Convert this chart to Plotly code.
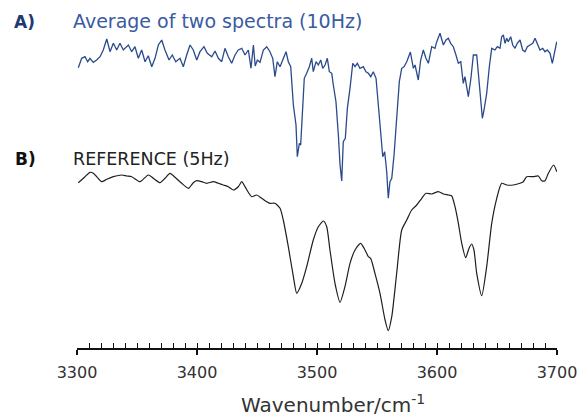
import plotly.graph_objects as go

# ---------------- data ----------------
# A) average of two spectra (10 Hz): wavenumber (cm-1) and relative signal (a.u.)
avg_wn = [3301.1, 3303.9, 3306.7, 3308.9, 3310.8, 3313.6, 3316.4, 3319.2, 3321.9, 3324.8,
          3327.5, 3330.3, 3333.1, 3335.8, 3338.6, 3342.8, 3345.6, 3348.3, 3351.1, 3353.9,
          3356.7, 3359.4, 3362.3, 3365.0, 3367.8, 3370.6, 3373.3, 3376.7, 3379.4, 3382.3,
          3385.8, 3388.6, 3391.4, 3394.2, 3396.9, 3399.8, 3402.5, 3405.8, 3408.6, 3412.3,
          3415.0, 3417.8, 3420.6, 3423.3, 3426.1, 3428.9, 3431.7, 3434.4, 3437.3, 3440.0,
          3442.8, 3445.0, 3447.0, 3448.5, 3450.3, 3452.5, 3455.3, 3458.1, 3460.8, 3463.1,
          3465.0, 3466.9, 3469.2, 3471.9, 3474.2, 3476.1, 3478.1, 3480.3, 3482.5, 3483.6,
          3485.3, 3486.4, 3487.8, 3489.4, 3491.4, 3493.6, 3495.6, 3496.9, 3499.2, 3501.1,
          3503.1, 3504.8, 3506.7, 3508.6, 3510.3, 3512.3, 3513.6, 3515.8, 3517.8, 3519.2,
          3520.6, 3521.9, 3523.6, 3525.3, 3527.5, 3529.8, 3531.7, 3533.6, 3535.8, 3538.6,
          3540.8, 3542.8, 3544.8, 3546.9, 3549.2, 3551.1, 3553.1, 3554.8, 3556.4, 3558.1,
          3559.4, 3560.8, 3562.3, 3564.2, 3566.4, 3568.6, 3570.6, 3572.5, 3574.8, 3577.8,
          3580.3, 3581.7, 3584.4, 3586.4, 3588.6, 3590.8, 3592.8, 3595.6, 3598.3, 3599.8,
          3602.5, 3603.9, 3605.3, 3607.5, 3609.4, 3611.4, 3613.6, 3615.8, 3617.8, 3619.8,
          3621.9, 3623.3, 3626.1, 3628.1, 3630.3, 3633.1, 3635.3, 3637.8, 3639.2, 3641.4,
          3643.6, 3645.6, 3648.3, 3650.3, 3652.5, 3653.9, 3655.3, 3656.7, 3658.1, 3659.4,
          3661.4, 3663.1, 3665.0, 3666.9, 3669.2, 3671.4, 3673.3, 3675.3, 3677.5, 3679.8,
          3681.7, 3683.6, 3685.8, 3688.1, 3690.0, 3691.9, 3694.2, 3696.1, 3697.5, 3699.8]
avg_signal = [-17.7, -8.3, -6.7, -11.7, -8.3, -12.3, -10, -6.7, 0, 11,
              -1.7, 6.7, 0, 6.7, 0, 5, -1.7, 3.3, -8.3, 0,
              -11.7, -5.7, -16.7, -8.3, 5, 10, 0, -10, -5, -11.7,
              -8.3, -16.7, -5, 5, 0, -10, -1.7, 3.3, -3.3, -6.7,
              -1, -8.3, -11.7, 1.7, -6.7, -13.3, -5, 0, 1.7, -5,
              0, -18.3, 5, -16, -10, -12.3, 0, 3.3, -1.7, -8.3,
              -26.7, -11.7, -16.7, -8.3, -1.7, -11.7, -16.7, -55, -75, -106.7,
              -93.3, -95, -58.3, -28.3, -23.3, -16.7, -8.3, -21.7, -11.7, -15,
              -10, -18.3, -15, -8.3, -21.7, -23.3, -35, -51.7, -85, -115,
              -131, -91.7, -88.3, -58.3, -38.3, -13.3, -16.7, -13.3, -18.3, -16.7,
              -21.7, -23.3, -26.7, -21.7, -28.3, -55, -75, -106.7, -101.7, -121.7,
              -148.3, -131.7, -128.3, -105, -68.3, -31.7, -18.3, -16.7, -11.7, -2,
              -18.3, -15, -30, -10, 0, -8.3, -13.3, 3.3, 1.7, 8.3,
              16.7, 11.7, 5, 10, 11.7, 6.7, 3.3, -5, -13.3, -11.7,
              -33.3, -26.7, -46.7, -30, -5, -5, -36.7, -68.3, -60, -43.3,
              -16.7, 1.7, 0, 3.3, 1.7, 13.3, 15, 6.7, 11.7, 8.3,
              13.3, 5, 1.7, 6.7, 10, 0, -1.7, 3.3, 5, 6.7,
              11.7, 6.7, 0, 1.7, -1.7, 0, -3.3, -13.3, -5, 8.3]

# B) reference spectrum (5 Hz)
ref_wn = [3301.1, 3306.7, 3310.8, 3313.6, 3316.4, 3320.6, 3324.8, 3330.3, 3337.3, 3341.4,
          3345.6, 3352.5, 3359.4, 3363.6, 3369.2, 3373.3, 3377.5, 3381.7, 3387.3, 3392.8,
          3396.9, 3399.8, 3403.9, 3408.1, 3413.6, 3417.8, 3421.9, 3426.1, 3430.3, 3434.4,
          3437.3, 3440.0, 3445.6, 3449.8, 3453.9, 3458.1, 3460.8, 3465.0, 3469.2, 3471.9,
          3476.1, 3480.3, 3483.1, 3487.3, 3491.4, 3496.9, 3501.1, 3505.3, 3508.1, 3510.8,
          3515.0, 3519.2, 3523.3, 3527.5, 3531.7, 3536.4, 3540.0, 3542.8, 3544.7, 3548.3,
          3552.5, 3556.7, 3559.4, 3562.3, 3566.4, 3570.6, 3574.8, 3578.9, 3583.1, 3587.3,
          3590.8, 3595.6, 3601.1, 3605.3, 3609.4, 3612.3, 3615.0, 3617.8, 3620.6, 3623.9,
          3626.7, 3628.9, 3630.8, 3633.1, 3637.3, 3641.4, 3645.6, 3649.8, 3653.9, 3658.1,
          3663.6, 3669.2, 3671.9, 3674.7, 3680.3, 3684.4, 3687.3, 3690.0, 3692.8, 3697.2,
          3699.8]
ref_signal = [-2.7, 3.3, 7.7, 6.7, 3.3, -1.7, 0.7, 3.3, 5, 4,
              3.3, -1.7, 5, 1.7, -2.7, 1.7, 6.7, 2.7, -3.3, -8.3,
              -2.7, -0.7, -1.7, -3.3, -1.7, -3.3, -5, -6.7, -10, -6.7,
              -1.7, -6.7, -16.7, -15, -18.3, -21.7, -23.3, -23.3, -28.3, -40,
              -66.7, -96.7, -113.3, -103.3, -86.7, -60, -46.7, -41, -46.7, -70,
              -103.3, -122.3, -106.7, -83.3, -70, -63.3, -70, -76.7, -78.3, -93.3,
              -113.3, -140, -150.7, -136.7, -93.3, -50, -40, -30, -25, -18.3,
              -13.3, -14, -11.7, -14, -15, -16, -26.7, -43.3, -63.3, -77.7,
              -68.3, -64, -70, -93.3, -115.7, -86.7, -43.3, -18.3, -3.3, -5,
              -5, -3.3, -1.7, 3.3, 3.3, 4, -0.7, -0.7, 6.7, 15,
              8.3]

x_ticks = [3300, 3400, 3500, 3600, 3700]
x_tick_labels = ["3300", "3400", "3500", "3600", "3700"]
x_title = "Wavenumber/cm<sup>-1</sup>"
label_a = "A)"
title_a = "Average of two spectra (10Hz)"
label_b = "B)"
title_b = "REFERENCE (5Hz)"

# ---------------- layout constants ----------------
W, H = 581, 419
ML, MR, MT, MB = 77, 24, 0, 71
PW, PH = W - ML - MR, H - MT - MB
OFFSET_A = 298   # vertical offset of trace A (stacked display)
OFFSET_B = 168   # vertical offset of trace B
FONT = "'DejaVu Sans', sans-serif"
BLUE = "#2a4a8c"
BLUE_TXT = "#3a5ba2"


def px(x):
    return (x - ML) / PW


def py(y):
    return (MT + PH - y) / PH


fig = go.Figure()
fig.add_trace(go.Scatter(
    x=ref_wn, y=[OFFSET_B + v for v in ref_signal], mode="lines",
    line=dict(color="#1e1e1e", width=1.2, shape="spline", smoothing=0.6),
    hoverinfo="skip", showlegend=False))
fig.add_trace(go.Scatter(
    x=avg_wn, y=[OFFSET_A + v for v in avg_signal], mode="lines",
    line=dict(color=BLUE, width=1.3),
    hoverinfo="skip", showlegend=False))
# invisible trace on overlay axis to carry the minor ticks
fig.add_trace(go.Scatter(x=[3300, 3700], y=[0, 0], xaxis="x2", mode="lines",
                         line=dict(width=0), hoverinfo="skip", showlegend=False))

fig.update_layout(
    width=W, height=H,
    margin=dict(l=ML, r=MR, t=MT, b=MB),
    paper_bgcolor="white", plot_bgcolor="white",
    xaxis=dict(range=[3300, 3700], tickmode="array", tickvals=x_ticks,
               ticktext=x_tick_labels, ticks="outside", ticklen=5, tickwidth=1.5,
               tickcolor="#111", showline=True, linecolor="#111", linewidth=1.6,
               showgrid=False, zeroline=False, ticklabelstandoff=4,
               tickfont=dict(family=FONT, size=16, color="#333")),
    xaxis2=dict(range=[3300, 3700], overlaying="x", matches="x", dtick=10, tick0=3300,
                ticks="inside", ticklen=5, tickwidth=1.3, tickcolor="#111",
                showticklabels=False, showline=False, showgrid=False, zeroline=False,
                side="bottom", anchor="y"),
    yaxis=dict(range=[0, PH], visible=False, fixedrange=True),
)

ann = [
    dict(text=x_title, x=px(333), y=py(419), yanchor="bottom",
         font=dict(size=20, color="#333", family=FONT)),
    dict(text="<b>" + label_a + "</b>", x=px(12), y=py(22), xanchor="left",
         font=dict(size=17, color="#1f3a72", family=FONT)),
    dict(text=title_a, x=px(71), y=py(21), xanchor="left",
         font=dict(size=19, color=BLUE_TXT, family=FONT)),
    dict(text="<b>" + label_b + "</b>", x=px(13), y=py(159), xanchor="left",
         font=dict(size=17, color="#111", family=FONT)),
    dict(text=title_b, x=px(71), y=py(159), xanchor="left",
         font=dict(size=17.5, color="#222", family=FONT)),
]
for a in ann:
    a.setdefault("xanchor", "center")
    a.setdefault("yanchor", "middle")
    fig.add_annotation(xref="paper", yref="paper", showarrow=False, **a)

fig.write_html("out.html")
